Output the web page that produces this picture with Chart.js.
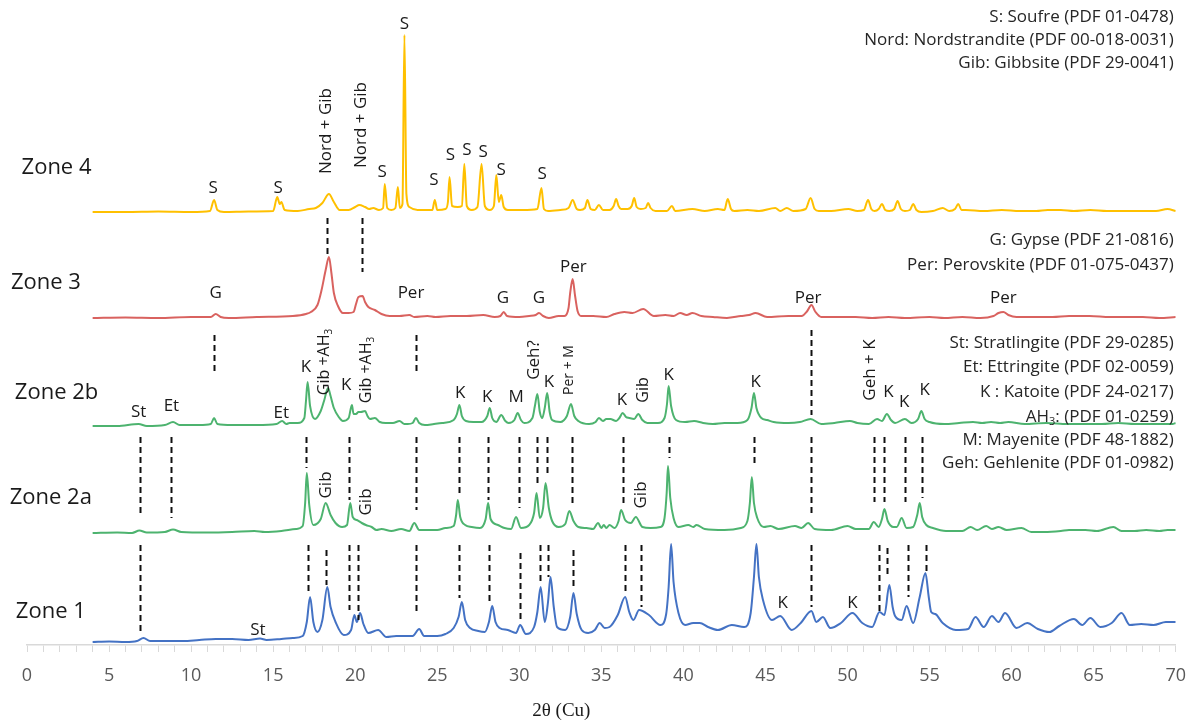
<!DOCTYPE html>
<html>
<head>
<meta charset="utf-8">
<script src="https://cdn.jsdelivr.net/npm/chart.js@4.4.1/dist/chart.umd.min.js"></script>
<style>
  html, body { margin: 0; padding: 0; background: #fff; }
  #wrap { width: 1199px; height: 722px; position: relative; }
</style>
</head>
<body>
<div id="wrap"><canvas id="xrd"></canvas></div>
<script>
// diffractogrammes : [2theta, intensite au-dessus de la ligne de base]
const zone1 = [[4.0,0],[5.0,0.5],[6.0,0],[6.7,1],[7.1,4],[7.5,1],[8.5,1],[9.5,1],[10.5,2],[11.5,3],[12.5,3],[13.5,2],[14.2,3.5],[14.6,2],[15.5,3],[16.2,4],[16.8,6],[17.05,20],[17.25,45],[17.45,20],[17.7,10],[18.0,22],[18.3,55],[18.5,35],[18.8,20],[19.3,7],[19.75,12],[19.95,27],[20.1,20],[20.3,29],[20.5,18],[20.8,9],[21.4,12],[21.9,5],[22.5,6],[23.5,6],[23.9,13],[24.2,6],[25.0,6],[25.5,8],[26.0,14],[26.3,25],[26.5,40],[26.7,22],[27.0,14],[27.5,11],[27.9,10],[28.15,20],[28.35,36],[28.55,20],[28.8,14],[29.3,12],[29.8,9],[30.05,17],[30.4,8],[30.9,15],[31.1,30],[31.3,55],[31.55,20],[31.75,40],[31.9,65],[32.1,35],[32.3,15],[32.8,12],[33.1,25],[33.3,49],[33.5,28],[33.8,12],[34.2,9],[34.6,12],[34.9,19],[35.2,14],[35.5,15],[36.0,27],[36.45,45],[36.7,30],[36.95,22],[37.3,32],[37.9,27],[38.6,17],[38.95,28],[39.1,55],[39.25,98],[39.4,60],[39.7,29],[40.1,17],[40.6,19],[41.0,19],[41.5,15],[42.1,12],[42.95,17],[43.7,15],[44.1,29],[44.3,65],[44.45,98],[44.6,65],[44.85,42],[45.4,22],[45.9,26],[46.6,12],[47.15,19],[47.8,31],[48.1,20],[48.5,25],[48.95,14],[49.6,19],[50.3,29],[50.9,19],[51.5,15],[51.95,30],[52.25,27],[52.55,57],[52.75,35],[52.9,26],[53.3,22],[53.6,36],[54.0,19],[54.4,45],[54.75,69],[54.95,45],[55.1,30],[55.35,28],[55.8,19],[56.6,12],[57.35,13],[57.8,25],[58.3,15],[58.8,26],[59.2,20],[59.6,29],[60.3,14],[60.95,19],[61.6,13],[62.3,10],[62.9,16],[63.8,23],[64.3,17],[64.8,24],[65.4,15],[66.1,19],[66.7,29],[67.2,17],[67.9,18],[68.65,17],[69.4,20],[70.0,20]];

const zone2a = [[4.0,0],[5.5,0.5],[6.4,0],[6.85,2.5],[7.3,0.5],[8.4,1],[8.9,3.5],[9.4,1],[11,0.5],[12.5,1],[13.85,2],[14.5,1],[15.5,2],[16.4,4],[16.8,7],[16.95,30],[17.05,60],[17.2,28],[17.45,8],[17.9,14],[18.2,30],[18.5,18],[18.8,10],[19.2,6],[19.5,8],[19.7,30],[19.85,16],[20.1,13],[20.4,10],[20.65,8],[21.0,6],[21.3,3],[21.6,4],[22.2,2],[22.8,4],[23.3,2],[23.6,10],[23.9,3],[25.0,3],[25.5,5],[26.0,7],[26.15,18],[26.25,33],[26.4,16],[26.7,8],[27.1,6],[27.6,5],[27.95,14],[28.1,30],[28.25,14],[28.7,8],[29.1,5],[29.5,4],[29.8,16],[30.1,5],[30.6,8],[30.9,20],[31.05,40],[31.25,15],[31.45,25],[31.6,50],[31.8,25],[32.0,12],[32.4,6],[32.8,9],[33.05,22],[33.3,12],[33.6,6],[34.1,5],[34.5,4],[34.8,10],[35.0,5],[35.15,8],[35.3,5],[35.5,8],[35.8,5],[36.05,12],[36.2,23],[36.45,13],[36.8,10],[37.1,16],[37.5,6],[38.0,5],[38.6,6],[38.85,15],[38.98,40],[39.06,67],[39.2,35],[39.4,15],[39.7,6],[40.3,8],[40.6,6],[40.8,8],[41.3,4],[42.5,3],[43.5,5],[43.9,12],[44.05,30],[44.17,56],[44.3,30],[44.5,15],[44.9,6],[45.3,7],[45.8,4],[46.8,7],[47.2,5],[47.6,10],[48.0,4],[49.0,3],[50.0,7],[50.5,4],[51.3,4],[51.6,11],[51.9,6],[52.1,14],[52.25,24],[52.45,12],[52.8,6],[53.0,6],[53.3,15],[53.6,5],[54.0,6],[54.25,18],[54.4,30],[54.55,16],[54.8,8],[55.2,5],[56.0,2],[57.0,2],[57.5,6],[57.9,3],[58.45,7],[58.8,4],[59.2,6],[59.7,3],[60.6,5],[61.2,1],[62.0,1],[63.0,2],[63.5,3],[64.5,3],[65.2,2],[66.2,6],[66.7,2],[67.5,2],[68.2,3],[69.0,2],[69.5,3],[70.0,3]];

const zone2b = [[4.0,0],[5.5,0],[6.8,2],[7.3,0],[8.4,1],[8.9,4],[9.3,1],[10.5,1],[11.2,2],[11.4,8],[11.6,2],[12.5,1],[14,1],[15.2,2],[15.55,5],[15.8,2],[16.0,3],[16.5,3],[16.9,8],[17.0,25],[17.1,44],[17.25,20],[17.55,7],[17.9,15],[18.1,25],[18.35,38],[18.5,30],[18.7,18],[19.0,9],[19.25,5],[19.6,8],[19.8,21],[19.9,12],[20.05,12],[20.2,14],[20.35,14],[20.6,15],[20.75,10],[20.9,7],[21.2,8],[21.5,4],[21.85,3],[22.3,3],[22.7,5],[23.0,2],[23.2,2],[23.5,3],[23.7,8],[23.9,3],[24.25,1],[24.8,2],[25.3,3],[26.0,6],[26.2,12],[26.35,21],[26.5,10],[26.75,5],[27.2,4],[27.7,4],[28.05,10],[28.2,18],[28.35,8],[28.6,4],[28.9,11],[29.15,5],[29.35,3],[29.7,6],[29.9,13],[30.1,6],[30.3,3],[30.8,8],[30.95,20],[31.1,32],[31.25,14],[31.4,8],[31.55,18],[31.7,33],[31.85,14],[32.0,6],[32.5,4],[32.9,10],[33.15,22],[33.35,10],[33.6,5],[34.25,2],[34.65,4],[34.85,8],[35.1,5],[35.3,7],[35.55,7],[35.9,5],[36.1,8],[36.3,13],[36.5,9],[36.7,8],[37.0,7],[37.25,12],[37.5,6],[37.8,3],[38.45,3],[38.85,8],[39.0,22],[39.1,40],[39.25,20],[39.55,6],[40.1,4],[40.65,5],[41.2,3],[41.8,2],[42.5,3],[43.3,3],[43.9,6],[44.15,18],[44.3,33],[44.45,18],[44.75,8],[45.1,6],[45.5,4],[46.4,3],[47.1,4],[47.75,7],[48.4,2],[49.2,3],[50.15,5],[50.6,3],[51.3,2],[51.8,7],[52.1,5],[52.4,12],[52.65,6],[52.9,3],[53.5,7],[53.9,3],[54.3,7],[54.5,15],[54.7,7],[55.0,4],[55.9,2],[56.8,3],[57.65,4],[58.2,3],[58.75,4],[59.3,3],[59.8,4],[60.8,2],[62.1,3],[63.4,2],[64.5,2],[65.5,2],[66.5,3],[67.5,2],[68.5,2],[69.8,2],[70.0,3]];

const zone3 = [[4.0,0],[6,0.5],[8,0],[10,1],[11.2,1],[11.5,4],[11.8,1],[12.3,0],[14,1],[16.2,2],[17.0,4],[17.3,6],[17.7,13],[17.95,28],[18.2,48],[18.4,61],[18.55,45],[18.7,25],[18.95,12],[19.25,5],[19.6,5],[19.9,6],[20.05,14],[20.2,21],[20.45,22],[20.6,16],[20.8,11],[21.2,8],[21.6,4],[22.1,2],[22.7,2],[23.3,3],[23.6,1],[24.4,2],[24.9,1],[25.8,2],[26.8,2],[27.8,3],[28.5,1],[28.85,2],[29.05,6],[29.25,2],[30.0,1],[30.6,2],[31.0,3],[31.2,5],[31.45,2],[31.8,0],[32.4,2],[32.75,2],[33.0,10],[33.1,25],[33.25,39],[33.4,22],[33.55,7],[33.8,2],[34.5,2],[35.3,1],[35.8,4],[36.4,6],[36.9,5],[37.55,9],[38.2,2],[38.9,3],[39.4,2],[39.8,5],[40.2,3],[40.55,5],[41.1,2],[41.8,1],[42.65,0],[43.5,2],[44.0,3],[44.4,5],[45.1,1],[46.4,2],[47.2,2],[47.55,7],[47.8,13],[48.05,6],[48.4,1],[49.5,1],[50.5,1],[51.5,0],[52.5,1],[53.5,0],[55.0,1],[55.9,0],[57.0,1],[58.1,0],[58.9,2],[59.2,5],[59.5,6],[59.8,3],[60.3,1],[61.5,1],[62.5,1],[63.5,2],[64.75,2],[66,1],[67,1],[68,1],[69,0],[70,1]];

const zone4 = [[4.0,0],[6,0],[8,0.5],[10,0],[11.15,1],[11.4,12],[11.6,2],[12,0],[13.5,0.5],[15.0,1],[15.25,15],[15.4,8],[15.5,10],[15.7,2],[16.5,1],[17.2,3],[17.6,4],[18.0,9],[18.4,18],[18.7,10],[19.05,2],[19.6,2],[20.0,5],[20.25,7],[20.6,5],[20.85,3],[21.1,4],[21.45,2],[21.7,4],[21.8,28],[21.95,4],[22.2,2],[22.45,4],[22.6,25],[22.72,4],[22.88,8],[23.0,177],[23.12,18],[23.3,5],[23.8,2],[24.3,2],[24.7,2],[24.85,12],[25.0,2],[25.5,3],[25.65,10],[25.75,35],[25.9,6],[26.25,5],[26.5,6],[26.65,48],[26.8,6],[27.1,2],[27.45,5],[27.7,48],[27.9,6],[28.2,2],[28.45,6],[28.6,37],[28.75,10],[28.9,17],[29.05,5],[29.3,2],[30.2,2],[31.1,3],[31.35,24],[31.5,3],[31.75,1],[32.5,2],[33.0,4],[33.25,12],[33.5,3],[33.7,2],[34.0,4],[34.15,12],[34.35,3],[34.6,2],[34.85,7],[35.1,2],[35.5,2],[35.75,6],[35.9,13],[36.05,6],[36.2,3],[36.6,3],[36.85,6],[37.0,14],[37.15,5],[37.4,3],[37.7,4],[37.85,9],[38.0,4],[38.3,1],[39.0,1],[39.3,6],[39.5,1],[40.55,3],[41.3,1],[42.1,3],[42.5,2],[42.7,13],[42.9,3],[43.1,1],[43.9,2],[44.6,1],[45.6,4],[45.9,1],[46.3,4],[46.7,1],[47.45,3],[47.75,14],[48.0,3],[48.25,1],[49.0,1],[50.05,3],[50.6,1],[51.0,2],[51.25,12],[51.45,3],[51.65,1],[51.9,3],[52.1,8],[52.3,2],[52.55,1],[52.85,3],[53.05,11],[53.25,3],[53.5,1],[53.8,2],[54.0,8],[54.2,2],[54.5,0],[55.2,1],[55.8,4],[56.2,1],[56.55,3],[56.75,8],[56.95,2],[57.2,2],[58.3,1],[59.4,2],[60.5,1],[61.5,1],[62.2,2],[63.0,2],[63.8,1],[64.8,2],[65.8,1],[66.8,1],[67.8,1],[68.8,1],[69.5,3],[70.0,1]];

const zoneSeries = [zone4, zone3, zone2b, zone2a, zone1];
const zoneNames = ['Zone 4', 'Zone 3', 'Zone 2b', 'Zone 2a', 'Zone 1'];
const zoneColors = ['#FFC000', '#D9625F', '#4DB36F', '#4DB36F', '#4472C4'];
const zoneOffsets = [433, 327, 219, 112, 3];   // decalage vertical des courbes
const zoneNameX = [1.8, 1.15, 1.8, 1.45, 1.45];
const zoneNameY = [477, 362, 252, 147, 33];

const xTicks = [0, 5, 10, 15, 20, 25, 30, 35, 40, 45, 50, 55, 60, 65, 70];
const xTitle = '2θ (Cu)';

// etiquettes de pics : texte, 2theta, hauteur
const peakLabels = [
  ['S', 11.35, 457], ['S', 15.3, 457], ['S', 21.65, 473], ['S', 23.0, 621], ['S', 24.8, 465],
  ['S', 25.8, 490], ['S', 26.8, 495], ['S', 27.8, 493], ['S', 28.9, 475], ['S', 31.4, 471],
  ['G', 11.5, 352], ['Per', 23.4, 352], ['G', 29.0, 347], ['G', 31.2, 347], ['Per', 33.3, 378],
  ['Per', 47.6, 347], ['Per', 59.5, 347],
  ['St', 6.8, 233], ['Et', 8.8, 239], ['Et', 15.5, 232], ['K', 17.0, 278], ['K', 19.45, 260],
  ['K', 26.4, 252], ['K', 28.05, 248], ['M', 29.8, 248], ['K', 31.8, 263], ['K', 36.25, 245],
  ['K', 39.1, 270], ['K', 44.4, 263], ['K', 52.5, 253], ['K', 53.45, 243], ['K', 54.7, 255],
  ['St', 14.07, 15], ['K', 46.05, 42], ['K', 50.3, 42]
];
const rotatedLabels = [
  ['Nord + Gib', 18.2, 514, 17], ['Nord + Gib', 20.35, 520, 17],
  ['Gib +AH_3', 18.15, 283, 16], ['Gib +AH_3', 20.7, 275, 16], ['Geh?', 30.9, 285, 17],
  ['Per + M', 33.0, 275, 14], ['Gib', 37.55, 255, 16], ['Geh + K', 51.4, 275, 17],
  ['Gib', 18.2, 160, 17], ['Gib', 20.65, 143, 17], ['Gib', 37.4, 150, 17]
];
const legendLines = [
  'S: Soufre (PDF 01-0478)', 'Nord: Nordstrandite (PDF 00-018-0031)', 'Gib: Gibbsite (PDF 29-0041)',
  'G: Gypse (PDF 21-0816)', 'Per: Perovskite (PDF 01-075-0437)',
  'St: Stratlingite (PDF 29-0285)', 'Et: Ettringite (PDF 02-0059)', 'K : Katoite (PDF 24-0217)',
  'AH_3: (PDF 01-0259)', 'M: Mayenite (PDF 48-1882)', 'Geh: Gehlenite (PDF 01-0982)'
];
const legendY = [628, 605, 582, 405, 380, 302, 278, 253, 228, 205, 182];

// traits pointilles : 2theta, haut, bas
const refLines = [
  [18.3, 427, 390], [20.4, 427, 373],
  [11.4, 310, 273], [23.7, 310, 270], [47.8, 315, 230],
  [6.9, 208, 128], [8.8, 208, 127], [17.0, 208, 177], [19.65, 208, 145], [23.7, 208, 135],
  [26.3, 208, 150], [28.1, 208, 145], [30.0, 208, 137], [31.1, 208, 158], [31.7, 208, 172],
  [33.2, 208, 138], [36.3, 208, 140], [39.1, 208, 187], [44.3, 208, 182], [47.75, 208, 128],
  [51.6, 208, 143], [52.2, 208, 143], [53.5, 208, 143], [54.55, 208, 147],
  [6.9, 100, 12], [17.1, 100, 52], [18.25, 95, 60], [19.6, 100, 35], [20.2, 100, 25],
  [23.7, 100, 30], [26.3, 100, 47], [28.15, 100, 43], [30.05, 92, 23], [31.25, 100, 62],
  [31.75, 100, 68], [33.25, 95, 55], [36.45, 100, 50], [37.4, 100, 38], [47.75, 100, 38],
  [51.9, 100, 30], [52.4, 97, 68], [53.7, 100, 48], [54.8, 100, 70]
];

const FONT = '"Open Sans", "Noto Sans", sans-serif';

function drawLabel(ctx, text, x, y, size) {
  const parts = text.split('_');
  ctx.font = size + 'px ' + FONT;
  const w1 = ctx.measureText(parts[0]).width;
  let w2 = 0;
  if (parts[1]) {
    ctx.font = Math.round(size * 0.65) + 'px ' + FONT;
    w2 = ctx.measureText(parts[1]).width;
  }
  const start = x - (w1 + w2) / 2;
  ctx.textAlign = 'left';
  ctx.textBaseline = 'middle';
  ctx.font = size + 'px ' + FONT;
  ctx.fillText(parts[0], start, y);
  if (parts[1]) {
    ctx.font = Math.round(size * 0.65) + 'px ' + FONT;
    ctx.fillText(parts[1], start + w1, y + size * 0.3);
  }
}

function drawLegendLine(ctx, text, right, y, size) {
  // texte aligne a droite avec indice eventuel (AH3)
  const i = text.indexOf('_');
  if (i < 0) {
    ctx.font = size + 'px ' + FONT;
    ctx.textAlign = 'right';
    ctx.textBaseline = 'middle';
    ctx.fillText(text, right, y);
    return;
  }
  const a = text.slice(0, i), sub = text[i + 1], b = text.slice(i + 2);
  ctx.textAlign = 'left';
  ctx.textBaseline = 'middle';
  ctx.font = size + 'px ' + FONT;
  const wa = ctx.measureText(a).width, wb = ctx.measureText(b).width;
  ctx.font = Math.round(size * 0.65) + 'px ' + FONT;
  const ws = ctx.measureText(sub).width;
  const x = right - wa - ws - wb;
  ctx.font = size + 'px ' + FONT;
  ctx.fillText(a, x, y);
  ctx.font = Math.round(size * 0.65) + 'px ' + FONT;
  ctx.fillText(sub, x + wa, y + size * 0.3);
  ctx.font = size + 'px ' + FONT;
  ctx.fillText(b, x + wa + ws, y);
}

const annotations = {
  id: 'annotations',
  afterDatasetsDraw(chart) {
    const { ctx, chartArea, scales: { x, y } } = chart;
    ctx.save();

    // traits pointilles
    ctx.strokeStyle = '#111';
    ctx.lineWidth = 2;
    ctx.setLineDash([6, 4]);
    refLines.forEach(([t, top, bottom]) => {
      const px = Math.round(x.getPixelForValue(t)) + 0.5;
      ctx.beginPath();
      ctx.moveTo(px, y.getPixelForValue(top));
      ctx.lineTo(px, y.getPixelForValue(bottom));
      ctx.stroke();
    });
    ctx.setLineDash([]);

    ctx.fillStyle = '#1a1a1a';
    zoneNames.forEach((name, i) => {
      ctx.font = '22px ' + FONT;
      ctx.textAlign = 'center';
      ctx.textBaseline = 'middle';
      ctx.fillText(name, x.getPixelForValue(zoneNameX[i]), y.getPixelForValue(zoneNameY[i]));
    });

    peakLabels.forEach(([txt, t, v]) => {
      drawLabel(ctx, txt, x.getPixelForValue(t), y.getPixelForValue(v), 17);
    });

    rotatedLabels.forEach(([txt, t, v, size]) => {
      ctx.save();
      ctx.translate(x.getPixelForValue(t), y.getPixelForValue(v));
      ctx.rotate(-Math.PI / 2);
      drawLabel(ctx, txt, 0, 0, size);
      ctx.restore();
    });

    ctx.fillStyle = '#262626';
    legendLines.forEach((txt, i) => {
      drawLegendLine(ctx, txt, chartArea.right - 2, y.getPixelForValue(legendY[i]), 17);
    });

    // titre de l'axe
    ctx.fillStyle = '#1a1a1a';
    ctx.font = '19px "Liberation Serif", "DejaVu Serif", serif';
    ctx.textAlign = 'center';
    ctx.textBaseline = 'middle';
    ctx.fillText(xTitle, (chartArea.left + chartArea.right) / 2 - 40, chart.height - 11);
    ctx.restore();
  }
};

new Chart(document.getElementById('xrd'), {
  type: 'line',
  data: {
    datasets: zoneSeries.map((serie, i) => ({
      label: zoneNames[i],
      data: serie.map(p => ({ x: p[0], y: p[1] + zoneOffsets[i] })),
      borderColor: zoneColors[i],
      borderWidth: 2,
      pointRadius: 0,
      cubicInterpolationMode: 'monotone',
      fill: false
    }))
  },
  options: {
    responsive: true,
    maintainAspectRatio: false,
    animation: false,
    devicePixelRatio: 1,
    layout: { padding: { left: 27, right: 20, top: 0, bottom: 0 } },
    plugins: { legend: { display: false }, tooltip: { enabled: false } },
    scales: {
      x: {
        type: 'linear',
        min: 0,
        max: 70,
        afterFit(scale) { scale.height = 77; },
        ticks: {
          stepSize: 1,
          maxTicksLimit: 100,
          autoSkip: false,
          maxRotation: 0,
          padding: 13,
          color: '#595959',
          font: { family: 'Open Sans', size: 18 },
          callback: v => xTicks.includes(v) ? String(v) : ''
        },
        grid: { drawOnChartArea: false, drawTicks: true, tickLength: 7, color: '#d9d9d9', lineWidth: 1 },
        border: { display: true, color: '#d9d9d9', width: 1.5 }
      },
      y: { display: false, min: 0, max: 645 }
    }
  },
  plugins: [annotations]
});
</script>
</body>
</html>
